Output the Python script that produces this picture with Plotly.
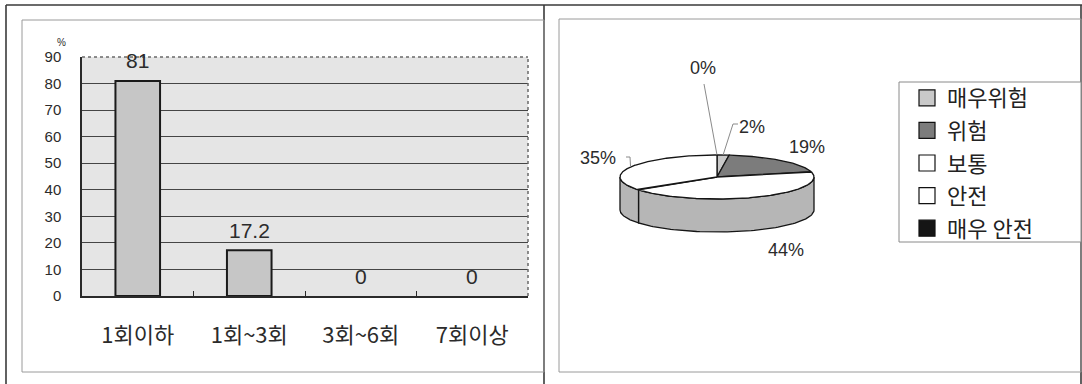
import numpy as np
import plotly.graph_objects as go

# ---- 왼쪽: 빈도 막대그래프 (%) ----
freq_categories = ["1회이하", "1회~3회", "3회~6회", "7회이상"]
freq_values = [81, 17.2, 0, 0]
freq_labels = ["81", "17.2", "0", "0"]
y_ticks = [0, 10, 20, 30, 40, 50, 60, 70, 80, 90]

# ---- 오른쪽: 위험도 인식 원그래프 (%) ----
risk_categories = ["매우위험", "위험", "보통", "안전", "매우 안전"]
risk_values = [2, 19, 44, 35, 0]
risk_labels = ["2%", "19%", "44%", "35%", "0%"]

# styles
risk_top_colors = ["#c9c9c9", "#7c7c7c", "#ffffff", "#ffffff", "#151515"]
risk_side_colors = ["#a9a9a9", "#5a5a5a", "#b6b6b6", "#b6b6b6", "#101010"]
INK = "#2b2b2b"
KR_FONT = "Noto Sans CJK KR"
NUM_FONT = "Liberation Sans"

W, H = 1082, 384


def px(x):
    return x / W


def py(y):
    return 1 - y / H


fig = go.Figure()

# bars (no outline on empty bars so nothing sits on the baseline)
fig.add_trace(go.Bar(
    x=freq_categories, y=freq_values, width=0.4,
    marker=dict(color="#c6c6c6",
                line=dict(color="#1a1a1a", width=[2 if v > 0 else 0 for v in freq_values])),
    hoverinfo="skip", showlegend=False, xaxis="x", yaxis="y",
))

# value labels above the bars
annotations = []
for cat, val, lab in zip(freq_categories, freq_values, freq_labels):
    annotations.append(dict(
        x=cat, y=val, xref="x", yref="y", text=lab, showarrow=False,
        yanchor="middle", yshift=20,
        font=dict(family=NUM_FONT, size=21, color=INK),
    ))
annotations.append(dict(
    x=px(62), y=py(43), xref="paper", yref="paper", text="%", showarrow=False,
    xanchor="center", yanchor="middle",
    font=dict(family=NUM_FONT, size=10, color=INK),
))

# ---- 3D-style pie on a pixel-scaled axis over the right panel ----
PX0 = 559
cx, cy, rx, ry, depth = 717, 177, 97, 22, 33
total = float(sum(risk_values))
ends = np.cumsum(risk_values) / total * 360.0
starts = np.concatenate([[0.0], ends[:-1]])


def ell(t_deg, dy=0.0):
    t = np.radians(t_deg)
    return cx + rx * np.sin(t), cy - ry * np.cos(t) + dy


# side walls (front half only, 90..270 deg clockwise from top)
for a0, a1, sc in zip(starts, ends, risk_side_colors):
    lo, hi = max(a0, 90.0), min(a1, 270.0)
    if hi <= lo:
        continue
    t = np.linspace(lo, hi, 80)
    xt, yt = ell(t)
    xb, yb = ell(t[::-1], depth)
    fig.add_trace(go.Scatter(
        x=np.concatenate([xt, xb, xt[:1]]), y=np.concatenate([yt, yb, yt[:1]]),
        mode="lines", fill="toself", fillcolor=sc,
        line=dict(color="#151515", width=1.3),
        hoverinfo="skip", showlegend=False, xaxis="x2", yaxis="y2",
    ))

# top faces
for a0, a1, tc in zip(starts, ends, risk_top_colors):
    if a1 - a0 <= 0:
        continue
    t = np.linspace(a0, a1, max(int((a1 - a0) * 1.5), 4))
    xs, ys = ell(t)
    fig.add_trace(go.Scatter(
        x=np.concatenate([[cx], xs, [cx]]), y=np.concatenate([[cy], ys, [cy]]),
        mode="lines", fill="toself", fillcolor=tc,
        line=dict(color="#151515", width=1.3),
        hoverinfo="skip", showlegend=False, xaxis="x2", yaxis="y2",
    ))

# percentage labels (text anchor points) and leader lines
label_xy = {"매우위험": (752, 127), "위험": (807, 147), "보통": (786, 250),
            "안전": (598, 158), "매우 안전": (703, 68)}
leader_from = {"매우위험": [(738, 124), (733, 124)], "안전": [(626, 157), (630, 157)],
               "매우 안전": [(704, 84)]}
for cat, lab, a0, a1 in zip(risk_categories, risk_labels, starts, ends):
    lx, ly = label_xy[cat]
    annotations.append(dict(
        x=lx, y=ly, xref="x2", yref="y2", text=lab, showarrow=False,
        font=dict(family=NUM_FONT, size=18, color=INK),
    ))
    if cat in leader_from:
        ex, ey = ell((a0 + a1) / 2.0)
        pts = leader_from[cat] + [(float(ex), float(ey))]
        fig.add_trace(go.Scatter(
            x=[p[0] for p in pts], y=[p[1] for p in pts], mode="lines",
            line=dict(color="#8a8a8a", width=1),
            hoverinfo="skip", showlegend=False, xaxis="x2", yaxis="y2",
        ))

# legend entries
for i, (cat, tc) in enumerate(zip(risk_categories, risk_top_colors)):
    fig.add_trace(go.Scatter(
        x=[None], y=[None], mode="markers", name=cat, legendgroup=f"g{i}",
        marker=dict(symbol="square", size=16, color=tc, line=dict(color="#111", width=1.2)),
        xaxis="x2", yaxis="y2",
    ))

# frames around the two panels
shapes = []
frame = dict(type="line", xref="paper", yref="paper", line=dict(color="#3a3a3a", width=1.6))
shapes += [
    dict(frame, x0=px(6), x1=px(1082), y0=py(5), y1=py(5)),
    dict(frame, x0=px(6), x1=px(6), y0=py(5), y1=py(384)),
    dict(frame, x0=px(544), x1=px(544), y0=py(5), y1=py(384)),
    dict(frame, x0=px(1081), x1=px(1081), y0=py(5), y1=py(384)),
]
inner = dict(type="rect", xref="paper", yref="paper", line=dict(color="#9a9a9a", width=1))
shapes += [
    dict(inner, x0=px(22), x1=px(544), y0=py(20), y1=py(372)),
    dict(inner, x0=px(559), x1=px(1081), y0=py(19), y1=py(372)),
    # legend box
    dict(type="rect", xref="paper", yref="paper", x0=px(899), x1=px(1081),
         y0=py(242), y1=py(82), fillcolor="white", line=dict(color="#8a8a8a", width=1)),
]
# grey plot area of the bar chart, with dotted top/right borders
shapes += [
    dict(type="rect", xref="x domain", yref="y domain", x0=0, x1=1, y0=0, y1=1,
         fillcolor="#e5e5e5", line=dict(width=0), layer="below"),
    dict(type="line", xref="x domain", yref="y domain", x0=0, x1=1, y0=1, y1=1,
         line=dict(color="#6a6a6a", width=1.5, dash="dot"), layer="above"),
    dict(type="line", xref="x domain", yref="y domain", x0=1, x1=1, y0=0, y1=1,
         line=dict(color="#6a6a6a", width=1.5, dash="dot"), layer="above"),
]

fig.update_layout(
    width=W, height=H,
    margin=dict(l=0, r=0, t=0, b=0, autoexpand=False),
    paper_bgcolor="white",
    plot_bgcolor="rgba(0,0,0,0)",
    xaxis=dict(
        domain=[px(82), px(528)], type="category", automargin=False,
        showgrid=False, showline=True, linecolor="#2a2a2a", linewidth=1.5,
        ticks="inside", tickson="boundaries", ticklen=5, tickcolor="#2a2a2a",
        ticklabelstandoff=19,
        tickfont=dict(family=KR_FONT, size=22, color=INK),
        fixedrange=True,
    ),
    yaxis=dict(
        domain=[py(296), py(57)], range=[0, 90], tickvals=y_ticks, automargin=False,
        showgrid=True, gridcolor="#454545", gridwidth=1.4,
        showline=True, linecolor="#2a2a2a", linewidth=1.5,
        zeroline=False, ticks="", ticklabelstandoff=16,
        tickfont=dict(family=NUM_FONT, size=15, color=INK),
        fixedrange=True,
    ),
    xaxis2=dict(domain=[px(PX0), 1], range=[PX0, W], visible=False, anchor="y2",
                automargin=False, fixedrange=True),
    yaxis2=dict(domain=[0, 1], range=[H, 0], visible=False, anchor="x2",
                automargin=False, fixedrange=True),
    legend=dict(
        x=px(907), y=py(77), xanchor="left", yanchor="top",
        bgcolor="rgba(0,0,0,0)", borderwidth=0,
        font=dict(family=KR_FONT, size=22, color="#222"),
        tracegroupgap=1,
    ),
    annotations=annotations,
    shapes=shapes,
)

fig.write_html("out.html")
